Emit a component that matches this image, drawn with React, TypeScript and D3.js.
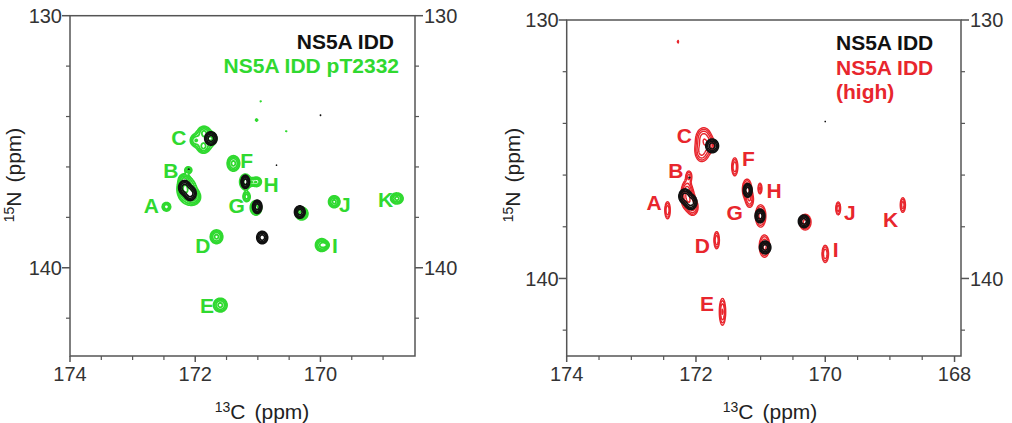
import React, { useMemo } from 'react';
import * as d3 from 'd3';

// Peak tables: [13C ppm, 15N ppm, sigma C (ppm), sigma N (ppm), relative intensity]
type Peak = [number, number, number, number, number];
type Label = [string, number, number];

// NS5A IDD (reference, black) — shared by both panels
const refPeaks: Peak[] = [
  [172.17, 136.82, 0.050, 0.15, 6],
  [172.08, 137.05, 0.050, 0.15, 6],
  [171.75, 134.87, 0.052, 0.14, 6],
  [171.20, 136.59, 0.036, 0.14, 6],
  [171.01, 137.58, 0.040, 0.14, 6],
  [170.33, 137.79, 0.045, 0.13, 6],
  [170.93, 138.80, 0.046, 0.13, 6],
  [172.10, 136.10, 0.015, 0.04, 1.2],
  [170.00, 133.94, 0.012, 0.03, 1.12],
  [170.70, 135.92, 0.012, 0.03, 1.12],
];

// NS5A IDD pT2332 (green)
const phosPeaks: Peak[] = [
  [172.46, 137.58, 0.040, 0.10, 4],
  [172.12, 136.95, 0.090, 0.32, 3.4],
  [172.17, 136.85, 0.055, 0.20, 5],
  [172.03, 137.20, 0.060, 0.15, 5],
  [172.18, 136.50, 0.045, 0.12, 3.5],
  [172.11, 136.12, 0.035, 0.08, 3],
  [171.86, 134.92, 0.100, 0.28, 3.4],
  [171.86, 134.62, 0.045, 0.12, 3],
  [172.00, 134.95, 0.045, 0.12, 3],
  [171.74, 134.87, 0.045, 0.12, 3],
  [171.87, 135.22, 0.045, 0.12, 3],
  [171.39, 135.86, 0.055, 0.17, 5],
  [171.02, 136.59, 0.045, 0.11, 4],
  [171.20, 136.59, 0.050, 0.17, 5],
  [171.11, 136.60, 0.040, 0.08, 3],
  [171.18, 137.18, 0.035, 0.12, 3.5],
  [171.03, 137.62, 0.050, 0.16, 5],
  [170.30, 137.85, 0.055, 0.14, 5],
  [171.66, 138.77, 0.055, 0.15, 5],
  [169.98, 139.10, 0.055, 0.14, 5],
  [169.92, 139.10, 0.030, 0.07, 3],
  [169.78, 137.38, 0.050, 0.13, 5],
  [168.78, 137.25, 0.055, 0.12, 5],
  [171.60, 141.48, 0.060, 0.15, 5],
  [170.95, 133.41, 0.012, 0.03, 1.5],
  [171.02, 134.14, 0.015, 0.04, 1.8],
  [170.55, 134.60, 0.012, 0.03, 1.5],
];

// NS5A IDD (high) (red)
const highPeaks: Peak[] = [
  [172.28, 130.84, 0.010, 0.06, 1.6],
  [171.88, 134.85, 0.075, 0.32, 3.2],
  [171.88, 134.55, 0.060, 0.20, 4],
  [171.92, 135.10, 0.050, 0.20, 3.5],
  [171.80, 134.80, 0.050, 0.15, 3.5],
  [172.11, 136.05, 0.030, 0.14, 3],
  [172.14, 136.60, 0.045, 0.22, 5],
  [172.12, 136.95, 0.055, 0.22, 6],
  [172.05, 137.25, 0.045, 0.17, 5],
  [172.44, 137.36, 0.025, 0.20, 4],
  [171.40, 135.68, 0.028, 0.21, 4],
  [171.21, 136.55, 0.040, 0.22, 5],
  [171.17, 136.95, 0.035, 0.18, 4],
  [171.01, 136.52, 0.020, 0.14, 3],
  [171.00, 137.58, 0.045, 0.24, 5],
  [170.31, 137.82, 0.050, 0.17, 5],
  [170.94, 138.75, 0.045, 0.24, 5],
  [171.68, 138.52, 0.025, 0.20, 4],
  [170.00, 139.05, 0.030, 0.20, 4],
  [169.80, 137.29, 0.023, 0.16, 3.5],
  [168.80, 137.16, 0.025, 0.18, 3.5],
  [171.59, 141.29, 0.028, 0.30, 4.5],
];

const leftLabels: Label[] = [
  ['C', 172.26, 134.83], ['B', 172.39, 136.15], ['A', 172.70, 137.54],
  ['F', 171.18, 135.76], ['H', 170.79, 136.69], ['G', 171.34, 137.54],
  ['J', 169.61, 137.48], ['K', 168.96, 137.28], ['D', 171.88, 139.13],
  ['I', 169.77, 139.13], ['E', 171.81, 141.48],
];

const rightLabels: Label[] = [
  ['C', 172.18, 134.48], ['B', 172.31, 135.81], ['A', 172.65, 137.07],
  ['F', 171.19, 135.35], ['H', 170.79, 136.61], ['G', 171.40, 137.45],
  ['J', 169.62, 137.45], ['K', 168.99, 137.71], ['D', 171.90, 138.74],
  ['I', 169.84, 138.87], ['E', 171.83, 140.97],
];

const contourLevels = [1, 1.6, 2.6, 4.2, 6.8, 11];

const leftXTicks = [174, 172, 170];
const rightXTicks = [174, 172, 170, 168];
const leftXMinor = [173.5, 173, 172.5, 171.5, 171, 170.5, 169.5, 169];
const rightXMinor = [173.5, 173, 172.5, 171.5, 171, 170.5, 169.5, 169, 168.5];
const yMajorTicks = [130, 140];
const yMinorTicks = [132, 134, 136, 138, 142];

const FONT = "'Liberation Sans', Arial, Helvetica, sans-serif";
const GREEN = '#30d930';
const RED = '#e8262d';
const BLACK = '#111111';
const FRAME = '#555555';
const TICKTXT = '#333333';

interface Layer { peaks: Peak[]; color: string; width: number }
interface Spec {
  id: string;
  x0: number; x1: number; y0: number; y1: number;
  cDom: [number, number]; nDom: [number, number];
  xTicks: number[]; xMinor: number[];
  layers: Layer[];
  labels: Label[]; labelColor: string;
  xTitleX: number; yTitleX: number;
  legend: { text: string; color: string; x: number; y: number; anchor: string }[];
}

function buildContours(peaks: Peak[], xs: d3.ScaleLinear<number, number>, ys: d3.ScaleLinear<number, number>, x0: number, y0: number, w: number, h: number): string[] {
  const vals = new Array(w * h).fill(0);
  const kx = Math.abs(xs(1) - xs(0));
  const ky = Math.abs(ys(1) - ys(0));
  for (const [c, n, sc, sn, a] of peaks) {
    const cx = xs(c) - x0;
    const cy = ys(n) - y0;
    const sx = sc * kx;
    const sy = sn * ky;
    const i0 = Math.max(0, Math.floor(cx - 4 * sx));
    const i1 = Math.min(w - 1, Math.ceil(cx + 4 * sx));
    const j0 = Math.max(0, Math.floor(cy - 4 * sy));
    const j1 = Math.min(h - 1, Math.ceil(cy + 4 * sy));
    for (let j = j0; j <= j1; j++) {
      const dy = (j + 0.5 - cy) / sy;
      for (let i = i0; i <= i1; i++) {
        const dx = (i + 0.5 - cx) / sx;
        vals[j * w + i] += a * Math.exp(-0.5 * (dx * dx + dy * dy));
      }
    }
  }
  const gen = d3.contours().size([w, h]).thresholds(contourLevels);
  const path = d3.geoPath();
  return gen(vals).map((g) => path(g as any) || '');
}

function Panel({ spec }: { spec: Spec }) {
  const xs = d3.scaleLinear().domain(spec.cDom).range([spec.x0, spec.x1]);
  const ys = d3.scaleLinear().domain(spec.nDom).range([spec.y0, spec.y1]);
  const w = Math.round(spec.x1 - spec.x0);
  const h = Math.round(spec.y1 - spec.y0);
  const layerPaths = useMemo(
    () => spec.layers.map((l) => buildContours(l.peaks, xs, ys, spec.x0, spec.y0, w, h)),
    [spec.id]
  );
  return (
    <g>
      <defs>
        <clipPath id={`clip-${spec.id}`}>
          <rect x={spec.x0} y={spec.y0} width={w} height={h} />
        </clipPath>
      </defs>
      <g clipPath={`url(#clip-${spec.id})`}>
        {spec.layers.map((l, li) => (
          <g key={li} transform={`translate(${spec.x0},${spec.y0})`}>
            {layerPaths[li].map((d, k) => (
              <path key={k} d={d} fill="none" stroke={l.color} strokeWidth={l.width} strokeLinejoin="round" />
            ))}
          </g>
        ))}
      </g>
      <rect x={spec.x0} y={spec.y0} width={spec.x1 - spec.x0} height={spec.y1 - spec.y0} fill="none" stroke={FRAME} strokeWidth={1.5} />
      {spec.xTicks.map((t) => (
        <g key={`xt${t}`}>
          <line x1={xs(t)} x2={xs(t)} y1={spec.y1} y2={spec.y1 + 6} stroke={FRAME} strokeWidth={1.5} />
          <text x={xs(t)} y={381} textAnchor="middle" fontSize={20} fill={TICKTXT} fontFamily={FONT}>{t}</text>
        </g>
      ))}
      {spec.xMinor.map((t) => (
        <line key={`xm${t}`} x1={xs(t)} x2={xs(t)} y1={spec.y1} y2={spec.y1 + 4} stroke={FRAME} strokeWidth={1.2} />
      ))}
      {yMajorTicks.map((t) => (
        <g key={`yt${t}`}>
          <line x1={spec.x0 - 8} x2={spec.x0} y1={ys(t)} y2={ys(t)} stroke={FRAME} strokeWidth={1.5} />
          <line x1={spec.x1} x2={spec.x1 + 8} y1={ys(t)} y2={ys(t)} stroke={FRAME} strokeWidth={1.5} />
          <text x={spec.x0 - 8} y={ys(t)} dy="0.36em" textAnchor="end" fontSize={20} fill={TICKTXT} fontFamily={FONT}>{t}</text>
          <text x={spec.x1 + 9} y={ys(t)} dy="0.36em" textAnchor="start" fontSize={20} fill={TICKTXT} fontFamily={FONT}>{t}</text>
        </g>
      ))}
      {yMinorTicks.map((t) => (
        <g key={`ym${t}`}>
          <line x1={spec.x0 - 4} x2={spec.x0} y1={ys(t)} y2={ys(t)} stroke={FRAME} strokeWidth={1.2} />
          <line x1={spec.x1} x2={spec.x1 + 4} y1={ys(t)} y2={ys(t)} stroke={FRAME} strokeWidth={1.2} />
        </g>
      ))}
      <text x={spec.xTitleX} y={419} textAnchor="middle" fontSize={21} fill="#222" fontFamily={FONT}>
        <tspan fontSize={14} dy="-7">13</tspan>
        <tspan dy="7">C</tspan>
        <tspan dx="9">(ppm)</tspan>
      </text>
      <text transform={`translate(${spec.yTitleX},${175}) rotate(-90)`} textAnchor="middle" fontSize={21} fill="#222" fontFamily={FONT}>
        <tspan fontSize={14} dy="-7">15</tspan>
        <tspan dy="7">N</tspan>
        <tspan dx="9">(ppm)</tspan>
      </text>
      {spec.labels.map(([s, c, n]) => (
        <text key={s} x={xs(c)} y={ys(n)} dy="0.36em" textAnchor="middle" fontSize={21} fontWeight="bold" fill={spec.labelColor} fontFamily={FONT}>{s}</text>
      ))}
      {spec.legend.map((l, i) => (
        <text key={i} x={l.x} y={l.y} textAnchor={l.anchor as any} fontSize={21} fontWeight="bold" fill={l.color} fontFamily={FONT}>{l.text}</text>
      ))}
    </g>
  );
}

const leftSpec: Spec = {
  id: 'left',
  x0: 70, x1: 415, y0: 15.7, y1: 356,
  cDom: [174, 168.49], nDom: [130, 143.5],
  xTicks: leftXTicks, xMinor: leftXMinor,
  layers: [
    { peaks: phosPeaks, color: GREEN, width: 1.8 },
    { peaks: refPeaks, color: BLACK, width: 1.6 },
  ],
  labels: leftLabels, labelColor: GREEN,
  xTitleX: 262, yTitleX: 21,
  legend: [
    { text: 'NS5A IDD', color: BLACK, x: 394, y: 48.5, anchor: 'end' },
    { text: 'NS5A IDD pT2332', color: GREEN, x: 399, y: 73, anchor: 'end' },
  ],
};

const rightSpec: Spec = {
  id: 'right',
  x0: 566.7, x1: 961, y0: 20, y1: 356,
  cDom: [174, 167.9], nDom: [130, 143.0],
  xTicks: rightXTicks, xMinor: rightXMinor,
  layers: [
    { peaks: highPeaks, color: RED, width: 1.4 },
    { peaks: refPeaks, color: BLACK, width: 1.6 },
  ],
  labels: rightLabels, labelColor: RED,
  xTitleX: 770, yTitleX: 520,
  legend: [
    { text: 'NS5A IDD', color: BLACK, x: 836, y: 50, anchor: 'start' },
    { text: 'NS5A IDD', color: RED, x: 836, y: 75, anchor: 'start' },
    { text: '(high)', color: RED, x: 836, y: 99, anchor: 'start' },
  ],
};

export default function App() {
  return (
    <svg width={1012} height={423} viewBox="0 0 1012 423" style={{ position: 'absolute', left: 0, top: 0, background: '#fff' }}>
      <rect x={0} y={0} width={1012} height={423} fill="#fff" />
      <Panel spec={leftSpec} />
      <Panel spec={rightSpec} />
    </svg>
  );
}
